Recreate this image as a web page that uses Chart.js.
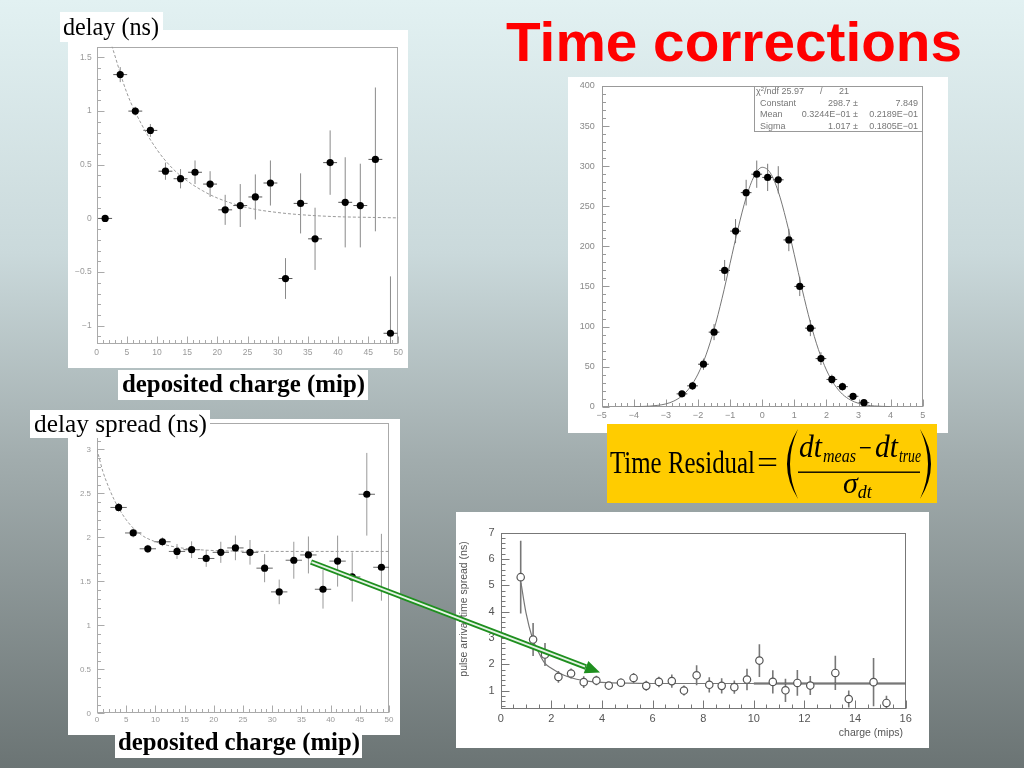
<!DOCTYPE html>
<html><head><meta charset="utf-8"><title>Time corrections</title>
<script src="https://cdn.jsdelivr.net/npm/chart.js@4.4.1/dist/chart.umd.min.js"></script>
<style>
html,body{margin:0;padding:0}
body{width:1024px;height:768px;overflow:hidden;position:relative;background:linear-gradient(to bottom,#e2f1f2 0%,#cad9db 33%,#a1acad 60%,#6b7474 100%)}
.panel{position:absolute;background:#fff}
canvas{position:absolute}
svg{position:absolute;left:0;top:0}
</style></head><body>
<div class="panel" style="left:68px;top:30px;width:340px;height:338px"></div>
<div class="panel" style="left:568px;top:77px;width:380px;height:356px"></div>
<div class="panel" style="left:68px;top:419px;width:332px;height:316px"></div>
<div class="panel" style="left:456px;top:512px;width:473px;height:236px"></div>
<canvas id="c1" width="340" height="338" style="left:68px;top:30px"></canvas>
<canvas id="c2" width="380" height="356" style="left:568px;top:77px"></canvas>
<canvas id="c3" width="332" height="316" style="left:68px;top:419px"></canvas>
<canvas id="c4" width="473" height="236" style="left:456px;top:512px"></canvas>

<svg width="1024" height="768" xmlns="http://www.w3.org/2000/svg">
  <text x="506" y="61" font-family="Liberation Sans" font-weight="bold" font-size="56" fill="#ff0000" textLength="456" lengthAdjust="spacingAndGlyphs">Time corrections</text>

  <rect x="60" y="12" width="103" height="30" fill="#fff"/>
  <text x="63" y="35" font-family="Liberation Serif" font-size="26" textLength="96" lengthAdjust="spacingAndGlyphs">delay (ns)</text>
  <rect x="118" y="370" width="250" height="30" fill="#fff"/>
  <text x="122" y="392" font-family="Liberation Serif" font-weight="bold" font-size="26" textLength="243" lengthAdjust="spacingAndGlyphs">deposited charge (mip)</text>

  <rect x="30" y="410" width="180" height="28" fill="#fff"/>
  <text x="34" y="432" font-family="Liberation Serif" font-size="26" textLength="173" lengthAdjust="spacingAndGlyphs">delay spread (ns)</text>
  <rect x="115" y="727" width="247" height="31" fill="#fff"/>
  <text x="118" y="750" font-family="Liberation Serif" font-weight="bold" font-size="26" textLength="242" lengthAdjust="spacingAndGlyphs">deposited charge (mip)</text>

  <rect x="754.5" y="86.5" width="168" height="45" fill="#fff" stroke="#999" stroke-width="1"/>
  <g font-family="Liberation Sans" font-size="9" fill="#777">
    <text x="756" y="93.5">χ<tspan font-size="6" dy="-3">2</tspan><tspan dy="3">/ndf 25.97</tspan></text>
    <text x="820" y="93.5">/</text>
    <text x="849" y="93.5" text-anchor="end">21</text>
    <text x="760" y="106">Constant</text><text x="858" y="106" text-anchor="end">298.7 ±</text><text x="918" y="106" text-anchor="end">7.849</text>
    <text x="760" y="117.3">Mean</text><text x="858" y="117.3" text-anchor="end">0.3244E−01 ±</text><text x="918" y="117.3" text-anchor="end">0.2189E−01</text>
    <text x="760" y="128.6">Sigma</text><text x="858" y="128.6" text-anchor="end">1.017 ±</text><text x="918" y="128.6" text-anchor="end">0.1805E−01</text>
  </g>

  <rect x="607" y="424" width="330" height="79" fill="#ffcc00"/>
  <g font-family="Liberation Serif" fill="#000">
    <text x="610" y="473" font-size="31" textLength="145" lengthAdjust="spacingAndGlyphs">Time Residual</text>
    <text x="757" y="473" font-size="31" textLength="21" lengthAdjust="spacingAndGlyphs">=</text>
    <path d="M798,429 Q776,464 798,499 Q782,464 798,429Z"/>
    <path d="M920,429 Q942,464 920,499 Q936,464 920,429Z"/>
    <text x="799" y="457" font-style="italic" font-size="31" textLength="23" lengthAdjust="spacingAndGlyphs">dt</text>
    <text x="823" y="462" font-style="italic" font-size="18" textLength="33" lengthAdjust="spacingAndGlyphs">meas</text>
    <text x="859" y="457" font-size="28" textLength="13" lengthAdjust="spacingAndGlyphs">−</text>
    <text x="875" y="457" font-style="italic" font-size="31" textLength="23" lengthAdjust="spacingAndGlyphs">dt</text>
    <text x="899" y="462" font-style="italic" font-size="18" textLength="22" lengthAdjust="spacingAndGlyphs">true</text>
    <rect x="798" y="471.5" width="122" height="1.4"/>
    <text x="843" y="493" font-style="italic" font-size="30">σ<tspan font-size="18" dy="5">dt</tspan></text>
  </g>

  <text transform="translate(467,609) rotate(-90)" text-anchor="middle" font-family="Liberation Sans" font-size="10.5" fill="#555">pulse arrival time spread (ns)</text>
  <text x="903" y="736" text-anchor="end" font-family="Liberation Sans" font-size="10.5" fill="#555">charge (mips)</text>

  <line x1="311" y1="562" x2="586" y2="667.1" stroke="#1f8f1f" stroke-width="5.5"/>
  <line x1="311.5" y1="562.2" x2="585" y2="666.7" stroke="#e6f4e6" stroke-width="1.8"/>
  <polygon points="600,672.5 583.7,673.2 588.3,661.1" fill="#1f8f1f"/>
</svg>

<script>
// ---------- Chart 1: delay (ns) vs deposited charge (mip) ----------
const delayX   = [1.4,3.9,6.4,8.9,11.4,13.9,16.3,18.8,21.3,23.8,26.3,28.8,31.3,33.8,36.2,38.7,41.2,43.7,46.2,48.7];
const delayY   = [0.00,1.34,1.00,0.82,0.44,0.37,0.43,0.32,0.08,0.12,0.20,0.33,-0.56,0.14,-0.19,0.52,0.15,0.12,0.55,-1.07];
const delayErr = [0.02,0.07,0.04,0.06,0.08,0.09,0.11,0.12,0.14,0.20,0.21,0.21,0.19,0.28,0.29,0.30,0.42,0.39,0.67,0.53];
const delayFitX = [2.5,5,7.5,10,12.5,15,17.5,20,25,30,35,40,45,50];
const delayFitY = [1.61,1.17,0.87,0.64,0.47,0.35,0.26,0.19,0.10,0.055,0.03,0.016,0.01,0.005];
const delayXTicks = [0,5,10,15,20,25,30,35,40,45,50];
const delayYTicks = [-1,-0.5,0,0.5,1,1.5];

// ---------- Chart 2: time residual histogram ----------
const resX   = [-2.5,-2.17,-1.83,-1.5,-1.17,-0.83,-0.5,-0.17,0.17,0.5,0.83,1.17,1.5,1.83,2.17,2.5,2.83,3.17];
const resY   = [16,26,53,93,170,219,267,290,286,283,208,150,98,60,34,25,13,5];
const resErr = [4,5,7,10,13,15,16,17,17,17,14,12,10,8,6,5,4,2];
const gausX = [-4,-3.75,-3.5,-3.25,-3,-2.75,-2.5,-2.25,-2,-1.75,-1.5,-1.25,-1,-0.75,-0.5,-0.25,0,0.25,0.5,0.75,1,1.25,1.5,1.75,2,2.25,2.5,2.75,3,3.25,3.5,3.75,4];
const gausY = [0.1,0.3,0.7,1.7,3.5,7.1,13.5,24.2,40.7,64.6,96.4,135.3,178.9,222.6,260.8,287.6,298.6,291.8,268.4,232.5,189.5,145.5,105.1,71.5,45.8,27.6,15.6,8.4,4.2,2.0,0.9,0.4,0.15];
const resXTicks = [-5,-4,-3,-2,-1,0,1,2,3,4,5];
const resYTicks = [0,50,100,150,200,250,300,350,400];

// ---------- Chart 3: delay spread (ns) vs deposited charge ----------
const spreadX   = [3.7,6.2,8.7,11.2,13.7,16.2,18.7,21.2,23.7,26.2,28.7,31.2,33.7,36.2,38.7,41.2,43.7,46.2,48.7];
const spreadY   = [2.34,2.05,1.87,1.95,1.84,1.86,1.76,1.83,1.88,1.83,1.65,1.38,1.74,1.80,1.41,1.73,1.55,2.49,1.66];
const spreadErr = [0.05,0.05,0.045,0.05,0.085,0.095,0.095,0.12,0.14,0.14,0.16,0.14,0.21,0.21,0.22,0.29,0.28,0.47,0.38];
const spreadFitX = [0,1,2,3,4,5,6,7,8,10,12,15,20,25,30,40,50];
const spreadFitY = [3.0,2.75,2.57,2.42,2.3,2.2,2.12,2.06,2.01,1.95,1.91,1.875,1.85,1.843,1.84,1.84,1.84];
const spreadXTicks = [0,5,10,15,20,25,30,35,40,45,50];
const spreadYTicks = [0,0.5,1,1.5,2,2.5,3];

// ---------- Chart 4: pulse arrival time spread vs charge (mips) ----------
const pulseX   = [0.79,1.28,1.75,2.28,2.78,3.28,3.78,4.27,4.75,5.25,5.75,6.25,6.76,7.24,7.74,8.24,8.73,9.23,9.73,10.22,10.75,11.25,11.72,12.23,13.22,13.75,14.73,15.24];
const pulseY   = [5.31,2.94,2.37,1.52,1.65,1.32,1.38,1.19,1.30,1.48,1.18,1.33,1.36,1.00,1.58,1.22,1.18,1.13,1.42,2.14,1.33,1.01,1.29,1.19,1.67,0.68,1.32,0.53];
const pulseErr = [1.38,0.63,0.44,0.22,0.19,0.22,0.18,0.13,0.16,0.19,0.19,0.2,0.25,0.19,0.38,0.29,0.29,0.25,0.41,0.62,0.44,0.44,0.49,0.36,0.65,0.32,0.92,0.27];
const pulseFitX = [0.8,1.0,1.25,1.5,1.75,2.0,2.5,3.0,3.5,4.0,5.0,6.0,10,16];
const pulseFitY = [5.1,3.95,3.0,2.45,2.03,1.85,1.58,1.43,1.35,1.31,1.28,1.27,1.27,1.27];
const pulseFlatX = [10,16];
const pulseFlatY = [1.27,1.27];
const pulseXTicks = [0,2,4,6,8,10,12,14,16];
const pulseYTicks = [1,2,3,4,5,6,7];

// ---------- helpers ----------
const pts = (xs, ys) => xs.map((x, i) => ({x, y: ys[i]}));
const fmtMinus = v => (v < 0 ? '\u2212' : '') + String(Math.abs(v));
const fmtPlain = v => String(v);

function axis(min, max, ticks, size, isX, fontSize, color, pad, fmt) {
  return {
    type: 'linear', min, max,
    afterBuildTicks: s => { s.ticks = ticks.map(v => ({value: v})); },
    afterFit: s => {
      if (isX) s.height = size; else s.width = size;
      s.paddingLeft = s.paddingRight = s.paddingTop = s.paddingBottom = 0;
    },
    grid: {display: false, drawTicks: false},
    border: {display: false},
    ticks: {autoSkip: false, maxRotation: 0, minRotation: 0, padding: pad, color,
            font: {family: 'Liberation Sans', size: fontSize}, callback: v => fmt(v)}
  };
}

const errBars = {
  id: 'errBars',
  beforeDatasetsDraw(chart, args, o) {
    if (!o || !o.yErr) return;
    const {ctx, chartArea: a, scales: {x, y}} = chart;
    const data = chart.data.datasets[0].data;
    ctx.save();
    ctx.beginPath(); ctx.rect(a.left, a.top, a.right - a.left, a.bottom - a.top); ctx.clip();
    ctx.lineWidth = o.width;
    data.forEach((p, i) => {
      const px = x.getPixelForValue(p.x), py = y.getPixelForValue(p.y);
      const e = o.yErr[i];
      ctx.strokeStyle = o.color;
      ctx.beginPath(); ctx.moveTo(px, y.getPixelForValue(p.y - e)); ctx.lineTo(px, y.getPixelForValue(p.y + e)); ctx.stroke();
      if (o.xErr) {
        ctx.strokeStyle = o.hColor || o.color;
        ctx.beginPath(); ctx.moveTo(x.getPixelForValue(p.x - o.xErr), py); ctx.lineTo(x.getPixelForValue(p.x + o.xErr), py); ctx.stroke();
      }
    });
    ctx.restore();
  }
};

const frameTicks = {
  id: 'frameTicks',
  beforeDatasetsDraw(chart, args, o) {
    if (!o || !o.x) return;
    const {ctx, chartArea: a, scales} = chart;
    ctx.save();
    ctx.strokeStyle = o.color; ctx.lineWidth = 1;
    const L = Math.round(a.left) + 0.5, R = Math.round(a.right) - 0.5, T = Math.round(a.top) + 0.5, B = Math.round(a.bottom) - 0.5;
    ctx.strokeRect(L, T, R - L, B - T);
    const draw = (sc, spec, horiz) => {
      const start = Math.ceil(sc.min / spec.minor - 1e-6);
      const end = Math.floor(sc.max / spec.minor + 1e-6);
      for (let k = start; k <= end; k++) {
        const v = k * spec.minor;
        const r = v / spec.major;
        const major = Math.abs(r - Math.round(r)) < 1e-6;
        const len = major ? spec.majLen : spec.minLen;
        const p = Math.round(sc.getPixelForValue(v)) + 0.5;
        ctx.beginPath();
        if (horiz) { ctx.moveTo(p, B); ctx.lineTo(p, B - len); }
        else { ctx.moveTo(L, p); ctx.lineTo(L + len, p); }
        ctx.stroke();
      }
    };
    draw(scales.x, o.x, true);
    draw(scales.y, o.y, false);
    ctx.restore();
  }
};

function makeChart(id, datasets, scales, padding, errOpt, frameOpt) {
  return new Chart(document.getElementById(id), {
    type: 'scatter',
    data: {datasets},
    options: {
      responsive: false, animation: false, events: [],
      layout: {padding},
      scales,
      plugins: {legend: {display: false}, tooltip: {enabled: false}, errBars: errOpt, frameTicks: frameOpt}
    },
    plugins: [frameTicks, errBars]
  });
}

// Chart 1
makeChart('c1', [
  {type: 'scatter', data: pts(delayX, delayY), pointRadius: 3.6, pointBackgroundColor: '#000', pointBorderWidth: 0},
  {type: 'line', data: pts(delayFitX, delayFitY), borderColor: '#9a9a9a', borderWidth: 1, borderDash: [3, 2], pointRadius: 0, cubicInterpolationMode: 'monotone', fill: false}
], {
  x: axis(0, 50, delayXTicks, 24, true, 8.5, '#999', 4, fmtPlain),
  y: axis(-1.17, 1.6, delayYTicks, 28.7, false, 8.5, '#999', 5, fmtMinus)
}, {left: 0, right: 9.7, top: 16.7, bottom: 0},
{yErr: delayErr, xErr: 1.15, color: '#8a8a8a', hColor: '#555', width: 1},
{color: '#aaa', x: {major: 5, minor: 1, majLen: 7, minLen: 3.5}, y: {major: 0.5, minor: 0.1, majLen: 7, minLen: 3.5}});

// Chart 2
makeChart('c2', [
  {type: 'scatter', data: pts(resX, resY), pointRadius: 3.6, pointBackgroundColor: '#000', pointBorderWidth: 0},
  {type: 'line', data: pts(gausX, gausY), borderColor: '#777', borderWidth: 1, pointRadius: 0, cubicInterpolationMode: 'monotone', fill: false}
], {
  x: axis(-5, 5, resXTicks, 26.3, true, 9, '#888', 3, fmtMinus),
  y: axis(0, 400, resYTicks, 33.7, false, 9, '#888', 7, fmtPlain)
}, {left: 0, right: 25.3, top: 9, bottom: 0},
{yErr: resErr, xErr: 0.167, color: '#777', hColor: '#444', width: 1},
{color: '#999', x: {major: 1, minor: 0.2, majLen: 7, minLen: 3.5}, y: {major: 50, minor: 10, majLen: 7, minLen: 3.5}});

// Chart 3
makeChart('c3', [
  {type: 'scatter', data: pts(spreadX, spreadY), pointRadius: 3.6, pointBackgroundColor: '#000', pointBorderWidth: 0},
  {type: 'line', data: pts(spreadFitX, spreadFitY), borderColor: '#9a9a9a', borderWidth: 1, borderDash: [3, 2], pointRadius: 0, cubicInterpolationMode: 'monotone', fill: false}
], {
  x: axis(0, 50, spreadXTicks, 21.7, true, 8, '#999', 2, fmtPlain),
  y: axis(0, 3.3, spreadYTicks, 29, false, 8, '#999', 6, fmtPlain)
}, {left: 0, right: 11, top: 3.6, bottom: 0},
{yErr: spreadErr, xErr: 1.4, color: '#999', hColor: '#666', width: 1},
{color: '#aaa', x: {major: 5, minor: 1, majLen: 7, minLen: 3.5}, y: {major: 0.5, minor: 0.1, majLen: 7, minLen: 3.5}});

// Chart 4
makeChart('c4', [
  {type: 'scatter', data: pts(pulseX, pulseY), pointRadius: 3.7, pointBackgroundColor: '#fff', pointBorderColor: '#555', pointBorderWidth: 1.2},
  {type: 'line', data: pts(pulseFitX, pulseFitY), borderColor: '#777', borderWidth: 1.2, pointRadius: 0, cubicInterpolationMode: 'monotone', fill: false},
  {type: 'line', data: pts(pulseFlatX, pulseFlatY), borderColor: '#555', borderWidth: 2, pointRadius: 0, fill: false}
], {
  x: axis(0, 16, pulseXTicks, 39, true, 11, '#555', 3, fmtPlain),
  y: axis(0.3, 7, pulseYTicks, 44.7, false, 11, '#555', 6, fmtPlain)
}, {left: 0, right: 23.3, top: 20.7, bottom: 0},
{yErr: pulseErr, color: '#777', width: 1.6},
{color: '#777', x: {major: 2, minor: 0.5, majLen: 8, minLen: 4}, y: {major: 1, minor: 0.2, majLen: 8, minLen: 4}});
</script>
</body></html>
